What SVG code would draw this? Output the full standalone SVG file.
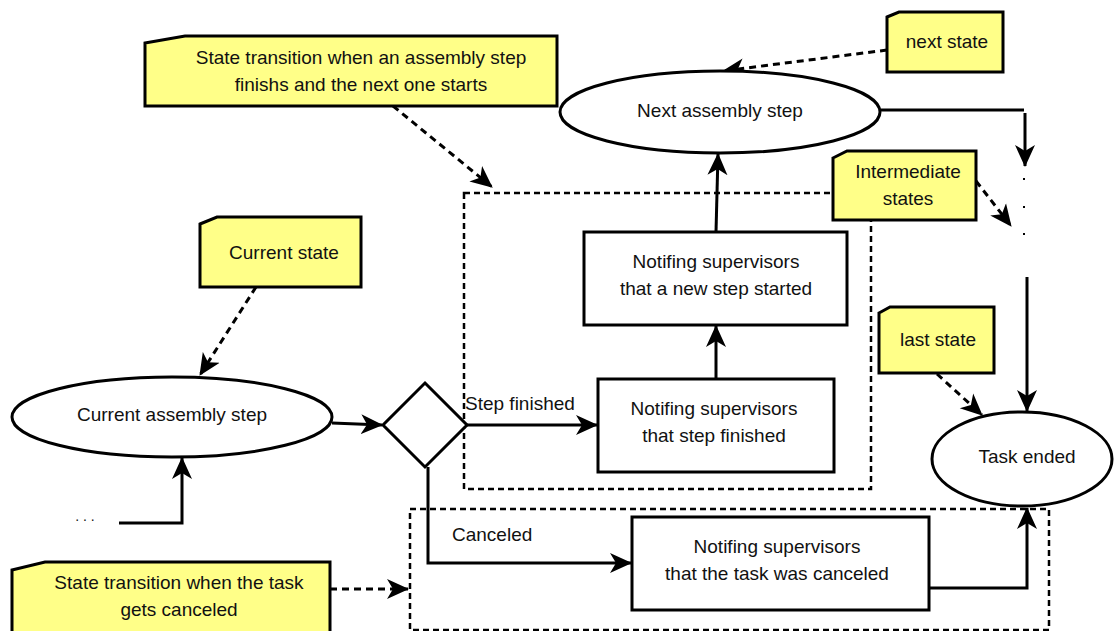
<svg xmlns="http://www.w3.org/2000/svg" width="1115" height="631" viewBox="0 0 1115 631">
  <style>
    .shape { fill: #ffffff; stroke: #000000; stroke-width: 3; }
    .note { fill: #ffff88; stroke: #000000; stroke-width: 3; stroke-linejoin: miter; }
    .group { fill: none; stroke: #000000; stroke-width: 2.5; stroke-dasharray: 6 4; }
    .edge { fill: none; stroke: #000000; stroke-width: 3; }
    .dashed { fill: none; stroke: #000000; stroke-width: 3; stroke-dasharray: 7 5; }
    text { font-family: "Liberation Sans", Arial, sans-serif; font-size: 19px; fill: #111111; }
    .c { text-anchor: middle; }
  </style>
  <defs>
    <marker id="arrow" viewBox="0 0 22 22" refX="21" refY="11" markerWidth="22" markerHeight="22" markerUnits="userSpaceOnUse" orient="auto">
      <path d="M0,1 L22,11 L0,21 L6,11 Z" fill="#000000" stroke="none"/>
    </marker>
  </defs>

  <!-- dashed group frames -->
  <g id="step-transition-frame">
    <rect class="group" x="464" y="193" width="407" height="296"/>
  </g>
  <g id="cancel-transition-frame">
    <rect class="group" x="410" y="509" width="639" height="121"/>
  </g>

  <!-- connectors -->
  <g id="connectors">
    <path class="edge" d="M332,423 L382,425" marker-end="url(#arrow)"/>
    <path class="edge" d="M467,425 L597,425" marker-end="url(#arrow)"/>
    <text x="465" y="410">Step finished</text>
    <path class="edge" d="M716,379 L716,326" marker-end="url(#arrow)"/>
    <path class="edge" d="M716,232 L718,154" marker-end="url(#arrow)"/>
    <path class="edge" d="M428,467 L428,563 L631,563" marker-end="url(#arrow)"/>
    <text x="452" y="541">Canceled</text>
    <path class="edge" d="M929,588 L1027,588 L1027,508" marker-end="url(#arrow)"/>
    <path class="edge" d="M119,523 L182,523 L182,458" marker-end="url(#arrow)"/>
    <path class="edge" d="M880,110 L1024,110"/>
    <path class="edge" d="M1025,113 L1025,166" marker-end="url(#arrow)"/>
    <path class="edge" d="M1027,277 L1027,411" marker-end="url(#arrow)"/>
    <g fill="#000000">
      <rect x="1023" y="178" width="2" height="2"/>
      <rect x="1023" y="206" width="2" height="2"/>
      <rect x="1023" y="233" width="2" height="2"/>
    </g>
    <text x="85" y="521" class="c" style="font-size:14px">. . .</text>
    <!-- note links -->
    <path class="dashed" d="M393,106 L492,187" marker-end="url(#arrow)"/>
    <path class="dashed" d="M887,50 L723,71" marker-end="url(#arrow)"/>
    <path class="dashed" d="M976,181 L1011,226" marker-end="url(#arrow)"/>
    <path class="dashed" d="M256,287 L200,375" marker-end="url(#arrow)"/>
    <path class="dashed" d="M937,374 L982,415" marker-end="url(#arrow)"/>
    <path class="dashed" d="M330,589 L408,589" marker-end="url(#arrow)"/>
  </g>

  <!-- states -->
  <g id="current-step">
    <ellipse class="shape" cx="172" cy="417" rx="160" ry="40"/>
    <text x="172" y="421" class="c">Current assembly step</text>
  </g>
  <g id="next-step">
    <ellipse class="shape" cx="720" cy="112" rx="160" ry="41"/>
    <text x="720" y="117" class="c">Next assembly step</text>
  </g>
  <g id="task-ended">
    <ellipse class="shape" cx="1022" cy="459" rx="90" ry="47"/>
    <text x="1027" y="463" class="c">Task ended</text>
  </g>
  <g id="decision">
    <path class="shape" d="M425,383 L467,425 L425,467 L383,425 Z"/>
  </g>

  <!-- activities -->
  <g id="notify-step-finished">
    <rect class="shape" x="598" y="379" width="236" height="93"/>
    <text x="714" y="415" class="c">Notifing supervisors</text>
    <text x="714" y="442" class="c">that step finished</text>
  </g>
  <g id="notify-step-started">
    <rect class="shape" x="584" y="232" width="263" height="93"/>
    <text x="716" y="268" class="c">Notifing supervisors</text>
    <text x="716" y="295" class="c">that a new step started</text>
  </g>
  <g id="notify-canceled">
    <rect class="shape" x="632" y="517" width="297" height="93"/>
    <text x="777" y="553" class="c">Notifing supervisors</text>
    <text x="777" y="580" class="c">that the task was canceled</text>
  </g>

  <!-- notes -->
  <g id="note-step-transition">
    <path class="note" d="M145,43 L185,36 L557,36 L557,106 L145,106 Z"/>
    <text x="361" y="64" class="c">State transition when an assembly step</text>
    <text x="361" y="91" class="c">finishs and the next one starts</text>
  </g>
  <g id="note-next-state">
    <path class="note" d="M887,17 L899,12 L1003,12 L1003,72 L887,72 Z"/>
    <text x="947" y="48" class="c">next state</text>
  </g>
  <g id="note-intermediate">
    <path class="note" d="M833,158 L847,151 L976,151 L976,220 L833,220 Z"/>
    <text x="908" y="178" class="c">Intermediate</text>
    <text x="908" y="205" class="c">states</text>
  </g>
  <g id="note-current-state">
    <path class="note" d="M200,224 L217,217 L361,217 L361,287 L200,287 Z"/>
    <text x="284" y="259" class="c">Current state</text>
  </g>
  <g id="note-last-state">
    <path class="note" d="M879,313 L890,307 L994,307 L994,373 L879,373 Z"/>
    <text x="938" y="346" class="c">last state</text>
  </g>
  <g id="note-cancel-transition">
    <path class="note" d="M12,570 L45,562 L330,562 L330,642 L12,642 Z"/>
    <text x="179" y="589" class="c">State transition when the task</text>
    <text x="179" y="616" class="c">gets canceled</text>
  </g>
</svg>
